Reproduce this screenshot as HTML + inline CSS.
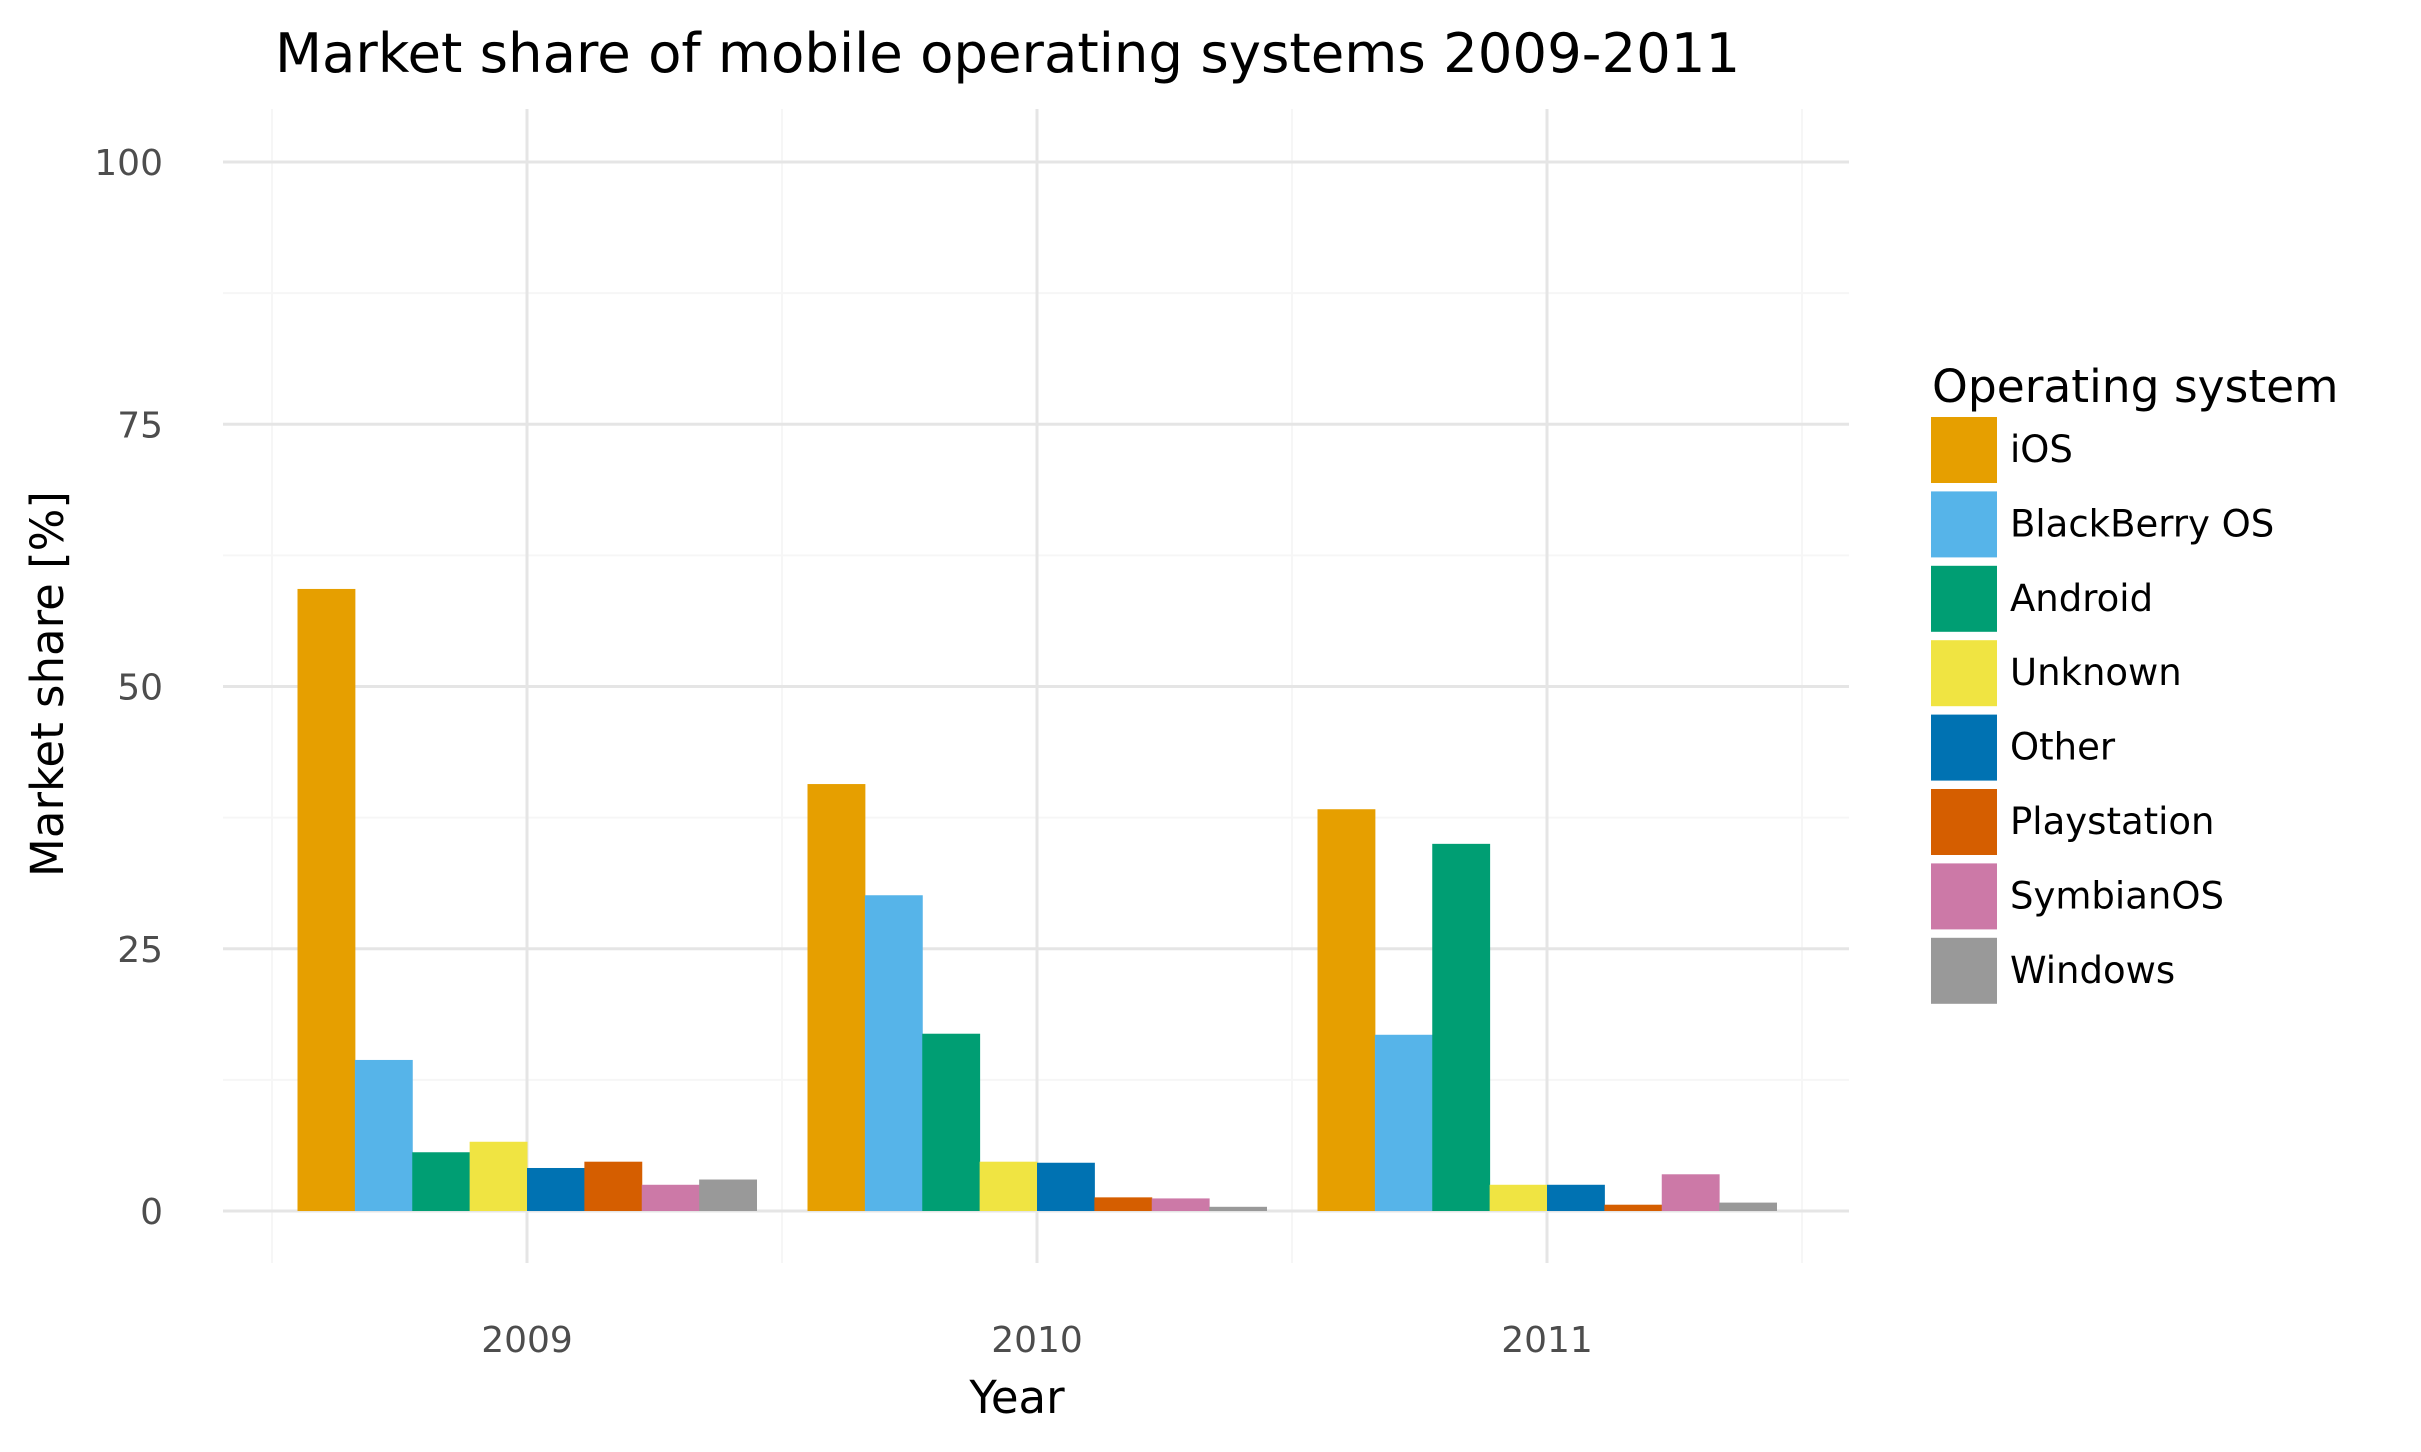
<!DOCTYPE html>
<html><head><meta charset="utf-8"><style>
html,body{margin:0;padding:0;background:#fff;}
svg{display:block;font-family:"DejaVu Sans","Liberation Sans",sans-serif;}
</style></head><body>
<svg id="chart" width="2421" height="1452" viewBox="0 0 2421 1452" xmlns="http://www.w3.org/2000/svg">
<rect width="2421" height="1452" fill="#fff"/>
<text x="275" y="72" font-size="54.5" fill="#000">Market share of mobile operating systems 2009-2011</text>
<g id="grid"></g>
<g id="bars"></g>
<g id="yticks"></g>
<g id="xticks"></g>
<text x="1017" y="1413" font-size="45" text-anchor="middle" fill="#000">Year</text>
<text transform="translate(63,684) rotate(-90)" font-size="45" text-anchor="middle" fill="#000">Market share [%]</text>
<text x="1932" y="402" font-size="45.5" fill="#000">Operating system</text>
<g id="legend"></g>
</svg>
<script>
const years = ["2009","2010","2011"];
const systems = ["iOS","BlackBerry OS","Android","Unknown","Other","Playstation","SymbianOS","Windows"];
const colors = ["#E69F00","#56B4E9","#009E73","#F0E442","#0072B2","#D55E00","#CC79A7","#999999"];
const share2009 = [59.3,14.4,5.6,6.6,4.1,4.7,2.5,3.0];
const share2010 = [40.7,30.1,16.9,4.7,4.6,1.3,1.2,0.4];
const share2011 = [38.3,16.8,35.0,2.5,2.5,0.6,3.5,0.8];
const yTicks = [0,25,50,75,100];
const yMinor = [12.5,37.5,62.5,87.5];

const NS="http://www.w3.org/2000/svg";
const panelL=223, panelR=1849, panelT=109, panelB=1263;
const y0=1211, y100=162;
function yScale(v){return y0-(y0-y100)*v/100;}
const bandStart=272, band=510;
function xCenter(i){return bandStart+band*(i+0.5);}
const groupW=band*0.9, barW=groupW/systems.length;
function mk(tag,attrs,parent){const e=document.createElementNS(NS,tag);for(const k in attrs)e.setAttribute(k,attrs[k]);parent.appendChild(e);return e;}

const grid=document.getElementById('grid');
yMinor.forEach(v=>{const l=mk('line',{x1:panelL,x2:panelR,y1:yScale(v),y2:yScale(v),stroke:'#f6f6f6','stroke-width':2},grid);

});
for(let i=0;i<=years.length;i++){const x=bandStart+band*i;const l=mk('line',{x1:x,x2:x,y1:panelT,y2:panelB,stroke:'#f6f6f6','stroke-width':2},grid);

}
yTicks.forEach(v=>{const l=mk('line',{x1:panelL,x2:panelR,y1:yScale(v),y2:yScale(v),stroke:'#e5e5e5','stroke-width':3},grid);

});
years.forEach((y,i)=>{const l=mk('line',{x1:xCenter(i),x2:xCenter(i),y1:panelT,y2:panelB,stroke:'#e5e5e5','stroke-width':3},grid);

});

const yt=document.getElementById('yticks');
yTicks.forEach(v=>{const t=mk('text',{x:163,y:yScale(v)+13,'font-size':36,'text-anchor':'end',fill:'#4d4d4d'},yt);t.textContent=v;

});
const xt=document.getElementById('xticks');
years.forEach((y,i)=>{const t=mk('text',{x:xCenter(i),y:1352,'font-size':36,'text-anchor':'middle',fill:'#4d4d4d'},xt);t.textContent=y;

});

const series=[share2009,share2010,share2011];
const bars=document.getElementById('bars');
series.forEach((vals,i)=>{const gx=xCenter(i)-groupW/2;
vals.forEach((v,j)=>{const r=mk('rect',{x:gx+j*barW,y:yScale(v),width:barW+0.5,height:y0-yScale(v),fill:colors[j]},bars);

});});

const lg=document.getElementById('legend');
systems.forEach((s,j)=>{const ky=417+j*74.4;
const r=mk('rect',{x:1931,y:ky,width:66,height:66,fill:colors[j]},lg);


const t=mk('text',{x:2010,y:ky+45,'font-size':37,fill:'#000'},lg);t.textContent=s;

});
</script>
</body></html>
